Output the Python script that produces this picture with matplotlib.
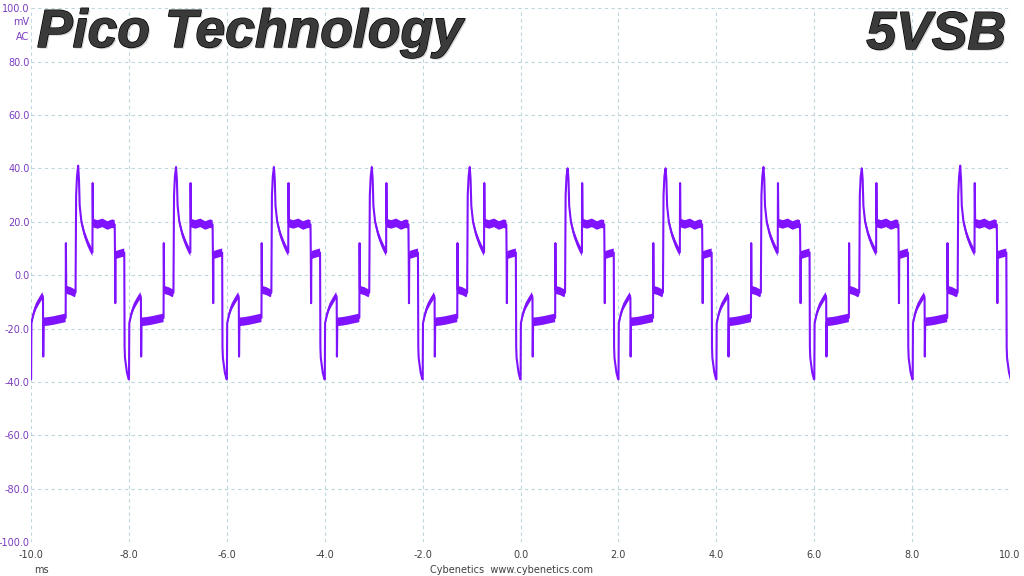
import numpy as np
import matplotlib
matplotlib.use("Agg")
import matplotlib.pyplot as plt
import matplotlib.patheffects as pe

# ---------------- data ----------------
# One ripple period, offsets in ms relative to the steep rise to the peak
shape_offset = [0.000, 0.012, 0.030, 0.053, 0.070, 0.085, 0.120, 0.180, 0.250, 0.300, 0.345,
                0.350, 0.358, 0.450, 0.550, 0.650, 0.750, 0.800,
                0.806, 0.812, 0.818, 0.900, 0.995,
                1.002, 1.010, 1.050, 1.085, 1.092,
                1.098, 1.140, 1.190, 1.260, 1.325, 1.335,
                1.340, 1.348, 1.450, 1.550, 1.650, 1.750, 1.798,
                1.803, 1.810, 1.900, 1.985]
shape_value = [-6.5, 30.0, 37.0, 40.5, 36.0, 26.0, 20.0, 15.5, 12.0, 10.0, 8.5,
               34.5, 19.5, 19.0, 19.6, 18.6, 19.3, 19.0,
               8.0, -10.5, 7.5, 8.0, 8.5,
               -27.0, -31.0, -36.5, -39.0, -39.0,
               -18.0, -14.5, -11.8, -9.5, -7.6, -8.5,
               -30.5, -17.5, -17.3, -17.0, -16.6, -16.2, -16.0,
               12.0, -5.5, -6.0, -6.8]
shape_noise = [1.2, 0.8, 1.0, 0.8, 1.0, 1.2, 1.4, 1.4, 1.4, 1.4, 1.4,
               0.0, 1.6, 1.6, 1.6, 1.6, 1.6, 1.6,
               1.0, 0.0, 1.5, 1.5, 1.5,
               0.3, 0.5, 0.6, 0.5, 0.3,
               1.0, 1.3, 1.3, 1.3, 1.3, 0.6,
               0.0, 1.6, 1.6, 1.6, 1.6, 1.6, 1.6,
               0.0, 1.5, 1.5, 1.5]
peak_index = 3

# start time (ms) of each period's rise, and the peak value of each period
rise_times = [-11.09, -9.09, -7.09, -5.09, -3.09, -1.09, 0.91, 2.91, 4.91, 6.92, 8.93]
peak_values = [41.0, 41.0, 40.5, 40.5, 40.5, 40.5, 40.0, 40.0, 40.5, 40.0, 41.0]

x_ticks = [-10.0, -8.0, -6.0, -4.0, -2.0, 0.0, 2.0, 4.0, 6.0, 8.0, 10.0]
y_ticks = [-100.0, -80.0, -60.0, -40.0, -20.0, 0.0, 20.0, 40.0, 60.0, 80.0, 100.0]

title_left = "Pico Technology"
title_right = "5VSB"
x_unit = "ms"
y_unit = ["mV", "AC"]
footer = "Cybenetics  www.cybenetics.com"

# ---------------- build trace ----------------
t_all, v_all, n_all = [], [], []
for rt, pk in zip(rise_times, peak_values):
    vals = list(shape_value)
    vals[peak_index] = pk
    t_all.extend([rt + o for o in shape_offset])
    v_all.extend(vals)
    n_all.extend(shape_noise)
t_all = np.array(t_all)
v_all = np.array(v_all)
n_all = np.array(n_all)

# ---------------- figure ----------------
W, H = 1024, 576
fig = plt.figure(figsize=(W / 100, H / 100), dpi=100)
fig.patch.set_facecolor("white")
left, right, top, bottom = 31, 1010, 8.3, 542
ax = fig.add_axes([left / W, (H - bottom) / H, (right - left) / W, (bottom - top) / H])

trace_col = "#7f12ff"
ax.fill_between(t_all, v_all - n_all, v_all + n_all, color=trace_col, lw=0, zorder=3)
ax.plot(t_all, v_all, color=trace_col, lw=1.5, zorder=4)

ax.set_xlim(-10, 10)
ax.set_ylim(-100, 100)
ax.set_xticks(x_ticks)
ax.set_yticks(y_ticks)
ax.set_xticklabels([f"{v:.1f}" for v in x_ticks])
ax.set_yticklabels([f"{v:.1f}" for v in y_ticks])
for s in ax.spines.values():
    s.set_visible(False)
ax.grid(True, color="#bcd6dc", lw=0.8, ls=(0, (3, 3)), zorder=1)
ax.set_axisbelow(True)
ax.tick_params(axis="both", length=0)
ax.tick_params(axis="y", pad=1, labelsize=7, labelcolor="#7a3cc0")
ax.tick_params(axis="x", pad=6, labelsize=7, labelcolor="#404040")

# unit labels below top y label
fig.text(29 / W, 1 - 22 / H, y_unit[0], ha="right", va="center", fontsize=7, color="#7a3cc0")
fig.text(29 / W, 1 - 37 / H, y_unit[1], ha="right", va="center", fontsize=7, color="#7a3cc0")
fig.text(34 / W, 1 - 570 / H, x_unit, ha="left", va="center", fontsize=7, color="#404040")
fig.text(512 / W, 1 - 570 / H, footer, ha="center", va="center", fontsize=7, color="#404040")

effects = [pe.SimplePatchShadow(offset=(1.2, -1.2), shadow_rgbFace="#aaaaaa", alpha=0.5),
           pe.Stroke(linewidth=1.0, foreground="#000000"), pe.Normal()]
fig.text(37 / W, 1 - 47 / H, title_left, ha="left", va="baseline", fontsize=38.5,
         fontweight="bold", fontstyle="italic", family="Liberation Sans", color="#3a3a3a",
         path_effects=effects, zorder=10)
fig.text(1006 / W, 1 - 49 / H, title_right, ha="right", va="baseline", fontsize=38.5,
         fontweight="bold", fontstyle="italic", family="Liberation Sans", color="#3a3a3a",
         path_effects=effects, zorder=10)

fig.savefig("out.png", dpi=100, facecolor="white")
